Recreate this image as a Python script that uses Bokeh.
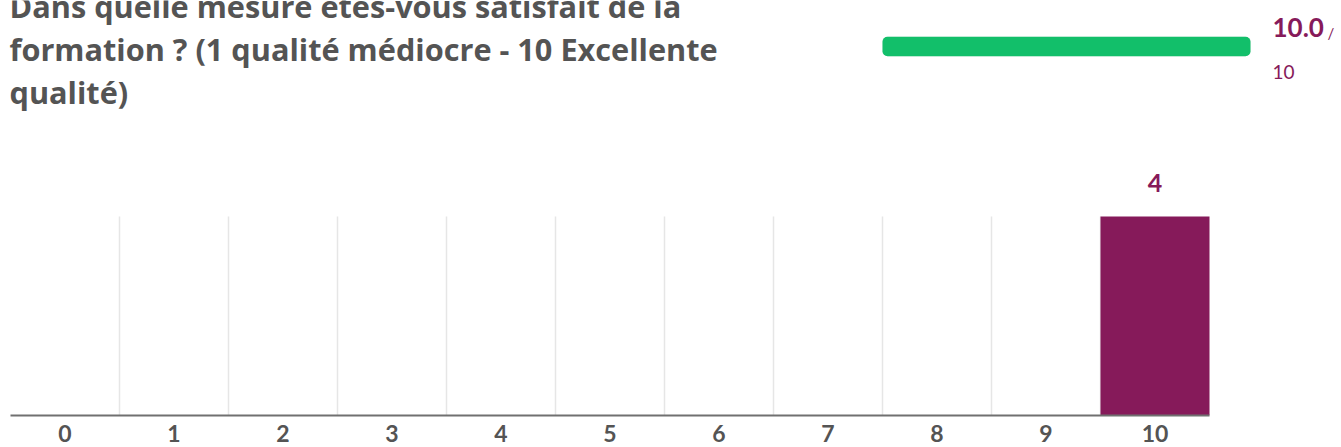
from bokeh.plotting import figure
from bokeh.models import Range1d, ColumnDataSource, FixedTicker
from bokeh.layouts import column
from bokeh.core.properties import value
from bokeh.embed import file_html
from bokeh.resources import INLINE

# ---- data ----
title_lines = [
    "Dans quelle mesure êtes-vous satisfait de la",
    "formation ? (1 qualité médiocre - 10 Excellente",
    "qualité)",
]
score = 10.0
max_score = 10
categories = [str(i) for i in range(11)]
counts = [0, 0, 0, 0, 0, 0, 0, 0, 0, 0, 4]

PURPLE = "#861A5A"
GREEN = "#12BF6A"
GRAY_TXT = "#545454"

W = 1341
H = 447
H1 = 150
H2 = H - H1


def shift(px):
    # compensate Bokeh's alphabetic-baseline placement (about 0.36 em low)
    return -round(0.36 * px)


# ---- header (pixel-like coordinates) ----
hdr = figure(width=W, height=H1, x_range=Range1d(0, W), y_range=Range1d(H1, 0),
             output_backend="svg", toolbar_location=None, min_border=0,
             x_axis_location=None, y_axis_location=None, outline_line_color=None)
hdr.grid.visible = False

g0, g1 = 882, 1250          # gauge extent in pixels
span = max_score / (g1 - g0)
start = -g0 * span
hdr.extra_x_ranges = {"score": Range1d(start, start + W * span)}
hdr.hbar(y=[46], left=[0], right=[max_score], height=19.5, x_range_name="score",
         fill_color="#e8e8e8", line_color=None, border_radius=5)
hdr.hbar(y=[46], left=[0], right=[score], height=19.5, x_range_name="score",
         fill_color=GREEN, line_color=None, border_radius=5)

hdr.text(x=[9] * len(title_lines), y=[16 + 43 * i for i in range(len(title_lines))],
         text=title_lines, text_font=value("Open Sans"), text_font_style="bold",
         text_font_size="30.7px", text_color=GRAY_TXT, text_baseline="alphabetic",
         y_offset=shift(31))
hdr.text(x=[1272], y=[36], text=[f"{score:.1f}"], text_font=value("Lato"),
         text_font_style="bold", text_font_size="26px", text_color=PURPLE,
         text_baseline="alphabetic", y_offset=shift(26))
hdr.text(x=[1327], y=[37], text=["/"], text_font=value("Lato"),
         text_font_size="15px", text_color=PURPLE, text_baseline="alphabetic",
         y_offset=shift(15))
hdr.text(x=[1272], y=[78], text=[str(max_score)], text_font=value("Lato"),
         text_font_size="19px", text_color=PURPLE, text_baseline="alphabetic",
         y_offset=shift(19))

# ---- bar chart ----
idx = list(range(len(categories)))
band = 109.0                 # pixel width of one category
left_pad, frame_w = 10, W
x0 = -0.5 - left_pad / band
src = ColumnDataSource(dict(x=idx, count=counts))
bars = figure(width=W, height=H2, x_range=Range1d(x0, x0 + frame_w / band),
              y_range=Range1d(0, max(counts) * 1.332),
              output_backend="svg", toolbar_location=None,
              min_border_left=0, min_border_right=0, min_border_top=0, min_border_bottom=32,
              y_axis_location=None, outline_line_color=None)
bars.grid.visible = False

grid_x = [i - 0.5 for i in idx[1:]]
bars.segment(x0=grid_x, y0=[0] * len(grid_x), x1=grid_x, y1=[max(counts)] * len(grid_x),
             line_color="#e6e6e6", line_width=1.5)

bars.vbar(x="x", top="count", width=1.0, source=src, fill_color=PURPLE, line_color=None)

nz = [(i, v) for i, v in zip(idx, counts) if v > 0]
lab_src = ColumnDataSource(dict(x=[i for i, _ in nz], count=[v for _, v in nz],
                                label=[str(v) for _, v in nz]))
bars.text(x="x", y="count", text="label", source=lab_src, y_offset=-25 + shift(25),
          text_align="center", text_baseline="alphabetic", text_font=value("Lato"),
          text_font_style="bold", text_font_size="25px", text_color=PURPLE)

ax = bars.xaxis[0]
ax.ticker = FixedTicker(ticks=idx)
ax.major_label_overrides = {i: c for i, c in zip(idx, categories)}
ax.bounds = (idx[0] - 0.5, idx[-1] + 0.5)
ax.axis_line_color = "#707070"
ax.axis_line_width = 2
ax.major_tick_line_color = None
ax.minor_tick_line_color = None
ax.major_label_standoff = 3
ax.major_label_text_font = "Lato"
ax.major_label_text_font_style = "bold"
ax.major_label_text_font_size = "23px"
ax.major_label_text_color = GRAY_TXT

layout = column(hdr, bars)
open("out.html", "w").write(file_html(layout, INLINE))
